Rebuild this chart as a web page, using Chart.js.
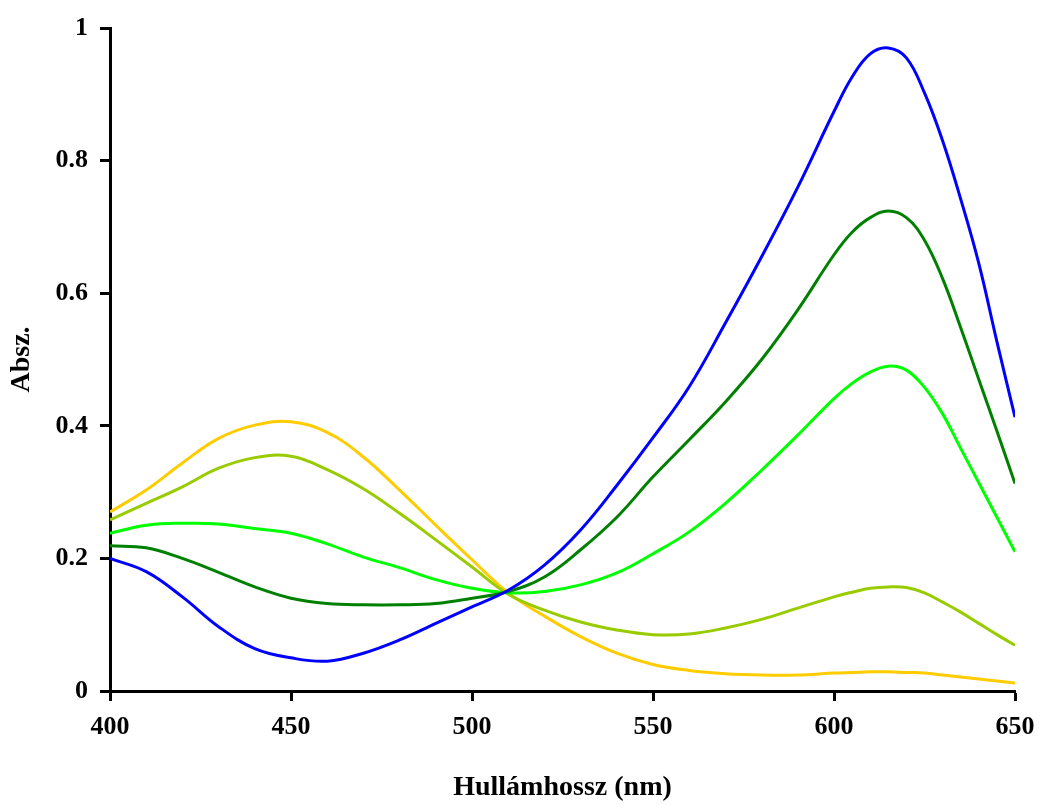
<!DOCTYPE html>
<html>
<head>
<meta charset="utf-8">
<script src="https://cdn.jsdelivr.net/npm/chart.js@4"></script>
<style>
  html, body { margin: 0; padding: 0; background: #fff; }
</style>
</head>
<body>
<canvas id="myChart" width="1040" height="805"></canvas>
<script>
// Hullámhossz (nm)
const wavelengths = [400, 410, 420, 430, 440, 450, 460, 470, 480, 490, 500, 510, 520, 530, 540, 550, 560, 570, 580, 590, 600, 605, 610, 615, 620, 625, 630, 635, 640, 645, 650];

// Absz. értékek (leolvasva)
const blueValues = [0.200, 0.180, 0.142, 0.097, 0.064, 0.050, 0.045, 0.057, 0.077, 0.102, 0.127, 0.152, 0.190, 0.243, 0.310, 0.382, 0.459, 0.555, 0.655, 0.760, 0.874, 0.926, 0.961, 0.970, 0.955, 0.902, 0.830, 0.742, 0.645, 0.527, 0.413];
const darkGreenValues = [0.219, 0.216, 0.200, 0.179, 0.157, 0.140, 0.132, 0.130, 0.130, 0.132, 0.140, 0.150, 0.172, 0.213, 0.262, 0.323, 0.379, 0.436, 0.500, 0.575, 0.658, 0.692, 0.714, 0.724, 0.714, 0.680, 0.622, 0.548, 0.470, 0.392, 0.313];
const greenValues = [0.238, 0.250, 0.253, 0.252, 0.245, 0.238, 0.222, 0.202, 0.186, 0.168, 0.155, 0.148, 0.150, 0.160, 0.178, 0.207, 0.240, 0.283, 0.333, 0.386, 0.441, 0.464, 0.481, 0.490, 0.484, 0.458, 0.418, 0.366, 0.314, 0.262, 0.210];
const yellowGreenValues = [0.258, 0.283, 0.308, 0.336, 0.352, 0.354, 0.334, 0.305, 0.268, 0.228, 0.187, 0.146, 0.122, 0.104, 0.092, 0.085, 0.086, 0.095, 0.108, 0.125, 0.142, 0.149, 0.155, 0.157, 0.156, 0.148, 0.134, 0.119, 0.102, 0.085, 0.069];
const goldValues = [0.270, 0.303, 0.344, 0.381, 0.401, 0.406, 0.390, 0.353, 0.303, 0.250, 0.198, 0.148, 0.113, 0.082, 0.057, 0.040, 0.031, 0.026, 0.024, 0.024, 0.027, 0.028, 0.029, 0.029, 0.028, 0.027, 0.024, 0.021, 0.018, 0.015, 0.012];

const seriesValues = [blueValues, darkGreenValues, greenValues, yellowGreenValues, goldValues];
const seriesColors = ['#0000FF', '#008000', '#00FF00', '#99CC00', '#FFCC00'];

function toPoints(values) {
    let points = [];
    for (let i = 0; i < wavelengths.length; i++) {
        points.push({ x: wavelengths[i], y: values[i] });
    }
    return points;
}

Chart.defaults.font.family = "'Liberation Serif', 'DejaVu Serif', serif";
Chart.defaults.font.weight = 'bold';
Chart.defaults.color = '#000';

const ctx = document.getElementById('myChart');

new Chart(ctx, {
    type: 'line',
    data: {
        datasets: seriesValues.map((values, i) => ({
            data: toPoints(values),
            borderColor: seriesColors[i],
            borderWidth: 3,
            pointRadius: 0,
            fill: false,
            tension: 0.4
        }))
    },
    options: {
        responsive: false,
        animation: false,
        devicePixelRatio: 1,
        layout: {
            padding: { top: 28, right: 25, bottom: 0, left: 0 }
        },
        plugins: {
            legend: { display: false },
            tooltip: { enabled: false }
        },
        scales: {
            x: {
                type: 'linear',
                min: 400,
                max: 650,
                ticks: { stepSize: 50, padding: 11, font: { size: 26 } },
                grid: { drawOnChartArea: false, drawTicks: true, tickLength: 10, tickWidth: 3, tickColor: '#000' },
                border: { display: true, color: '#000', width: 3 },
                title: { display: true, text: 'Hullámhossz (nm)', font: { size: 28 }, padding: { top: 0, bottom: 0 } },
                afterFit: function (axis) {
                    axis.height = 114;
                    axis.paddingRight = 25;
                }
            },
            y: {
                min: 0,
                max: 1,
                ticks: {
                    stepSize: 0.2,
                    padding: 12,
                    font: { size: 26 },
                    callback: function (value) { return String(Math.round(value * 10) / 10); }
                },
                grid: { drawOnChartArea: false, drawTicks: true, tickLength: 10, tickWidth: 3, tickColor: '#000' },
                border: { display: true, color: '#000', width: 3 },
                title: { display: true, text: 'Absz.', font: { size: 28 }, padding: { top: 5, bottom: 0 } },
                afterFit: function (axis) { axis.width = 110; }
            }
        }
    }
});
</script>
</body>
</html>
